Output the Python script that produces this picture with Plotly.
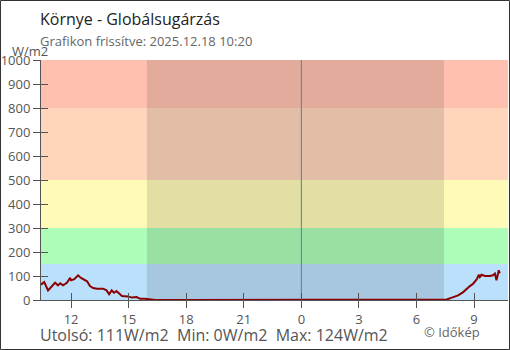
import plotly.graph_objects as go

# Global radiation readings (W/m2), local time
times = [
    "2025-12-17 10:26", "2025-12-17 10:36", "2025-12-17 10:48", "2025-12-17 11:04",
    "2025-12-17 11:10", "2025-12-17 11:19", "2025-12-17 11:26", "2025-12-17 11:35",
    "2025-12-17 11:47", "2025-12-17 11:57", "2025-12-17 12:00", "2025-12-17 12:10",
    "2025-12-17 12:22", "2025-12-17 12:31", "2025-12-17 12:44", "2025-12-17 12:50",
    "2025-12-17 12:59", "2025-12-17 13:09", "2025-12-17 13:21", "2025-12-17 13:40",
    "2025-12-17 13:51", "2025-12-17 13:59", "2025-12-17 14:07", "2025-12-17 14:14",
    "2025-12-17 14:22", "2025-12-17 14:30", "2025-12-17 14:39", "2025-12-17 14:58",
    "2025-12-17 15:10", "2025-12-17 15:25", "2025-12-17 15:36", "2025-12-17 15:51",
    "2025-12-17 16:06", "2025-12-17 16:23", "2025-12-17 18:00", "2025-12-17 21:00",
    "2025-12-18 00:00", "2025-12-18 03:00", "2025-12-18 06:00", "2025-12-18 07:13",
    "2025-12-18 07:34", "2025-12-18 07:55", "2025-12-18 08:10", "2025-12-18 08:26",
    "2025-12-18 08:36", "2025-12-18 08:47", "2025-12-18 08:57", "2025-12-18 09:08",
    "2025-12-18 09:15", "2025-12-18 09:18", "2025-12-18 09:23", "2025-12-18 09:34",
    "2025-12-18 09:49", "2025-12-18 09:59", "2025-12-18 10:05", "2025-12-18 10:10",
    "2025-12-18 10:15", "2025-12-18 10:17", "2025-12-18 10:20",
]
radiation = [
    64, 75, 40, 64,
    72, 61, 70, 61,
    72, 92, 82, 87,
    103, 92, 82, 78,
    58, 50, 47, 47,
    40, 24, 40, 30,
    37, 26, 17, 15,
    10, 12, 5, 5,
    2, 0, 0, 0,
    0, 0, 0, 0,
    2, 12, 19, 33,
    47, 58, 68, 86,
    105, 96, 105, 100,
    100, 103, 110, 82,
    110, 124, 111,
]

# Intensity bands and their fill colours
band_edges = [0, 150, 300, 500, 800, 1000]
band_colors = ["#bbe0fb", "#adfcb8", "#fffab8", "#ffd6bc", "#ffc0b0"]

# Darkness between sunset and sunrise
night_start = "2025-12-17 15:57"
night_end = "2025-12-18 07:26"
midnight = "2025-12-18 00:00"

x_range = ["2025-12-17 10:26", "2025-12-18 10:46"]
tick_vals = ["2025-12-17 12:00", "2025-12-17 15:00", "2025-12-17 18:00",
             "2025-12-17 21:00", "2025-12-18 00:00", "2025-12-18 03:00",
             "2025-12-18 06:00", "2025-12-18 09:00"]
tick_text = ["12", "15", "18", "21", "0", "3", "6", "9"]
y_ticks = list(range(0, 1001, 100))

FONT = "Open Sans"
W, H = 510, 350
ML, MR, MT, MB = 41, 2, 60, 50
PW, PH = W - ML - MR, H - MT - MB


def px_x(px):
    """Figure pixel column -> paper x."""
    return (px - ML) / PW


def px_y(py):
    """Figure pixel row -> paper y."""
    return (H - MB - py) / PH


fig = go.Figure()

fig.add_trace(go.Scatter(
    x=times, y=radiation, mode="lines",
    line=dict(color="#8b0000", width=2),
    hoverinfo="skip", showlegend=False,
))
# invisible trace that carries the inner tick axes
fig.add_trace(go.Scatter(
    x=[times[0]], y=[0], xaxis="x2", yaxis="y2", mode="markers",
    marker=dict(opacity=0), hoverinfo="skip", showlegend=False,
))

shapes = []
for lo, hi, col in zip(band_edges[:-1], band_edges[1:], band_colors):
    shapes.append(dict(type="rect", xref="paper", yref="y", x0=0, x1=1,
                       y0=lo, y1=hi, fillcolor=col, line_width=0, layer="below"))
shapes.append(dict(type="rect", xref="x", yref="paper", x0=night_start, x1=night_end,
                   y0=0, y1=1, fillcolor="rgba(0,0,0,0.11)", line_width=0, layer="below"))
shapes.append(dict(type="line", xref="x", yref="paper", x0=midnight, x1=midnight,
                   y0=0, y1=1, line=dict(color="#3a87c9", width=1), layer="below"))
# frame around the whole figure
shapes.append(dict(type="rect", xref="paper", yref="paper",
                   x0=px_x(0.5), x1=px_x(W - 0.5), y0=px_y(H - 0.5), y1=px_y(0.5),
                   line=dict(color="#333333", width=1), fillcolor="rgba(0,0,0,0)"))

axis_common = dict(showgrid=False, zeroline=False)


def label(text, x, y, size, color, anchor="left"):
    return dict(text=text, xref="paper", yref="paper", x=px_x(x), y=px_y(y),
                xanchor=anchor, yanchor="middle", showarrow=False, borderpad=0,
                font=dict(family=FONT, size=size, color=color))


fig.update_layout(
    width=W, height=H,
    margin=dict(l=ML, r=MR, t=MT, b=MB, pad=0),
    paper_bgcolor="white", plot_bgcolor="white",
    font=dict(family=FONT, color="#555555", size=13),
    shapes=shapes,
    xaxis=dict(type="date", range=x_range, tickvals=tick_vals, ticktext=tick_text,
               ticks="outside", ticklen=7, tickcolor="#555555", tickwidth=1,
               showline=True, linecolor="#555555", linewidth=1,
               tickfont=dict(size=13, color="#555555"), **axis_common),
    yaxis=dict(range=[0, 1000], tickvals=y_ticks, ticks="outside", ticklen=7,
               tickcolor="#555555", tickwidth=1, showline=True, linecolor="#555555",
               linewidth=1, tickfont=dict(size=13, color="#555555"), **axis_common),
    xaxis2=dict(type="date", overlaying="x", matches="x", tickvals=tick_vals,
                ticks="inside", ticklen=7, tickcolor="#555555", showticklabels=False,
                showline=False, **axis_common),
    yaxis2=dict(overlaying="y", matches="y", tickvals=y_ticks, ticks="inside",
                ticklen=7, tickcolor="#555555", showticklabels=False,
                showline=False, **axis_common),
    annotations=[
        label("Környe - Globálsugárzás", 39, 19, 16, "#222222"),
        label("Grafikon frissítve: 2025.12.18 10:20", 39, 41, 13, "#666666"),
        label("W/m2", 11, 51, 13, "#555555"),
        label("Utolsó: 111W/m2  Min: 0W/m2  Max: 124W/m2", 39, 335, 16, "#555555"),
        label("© Időkép", 423, 332, 13, "#666666"),
    ],
)

fig.write_html("out.html")
